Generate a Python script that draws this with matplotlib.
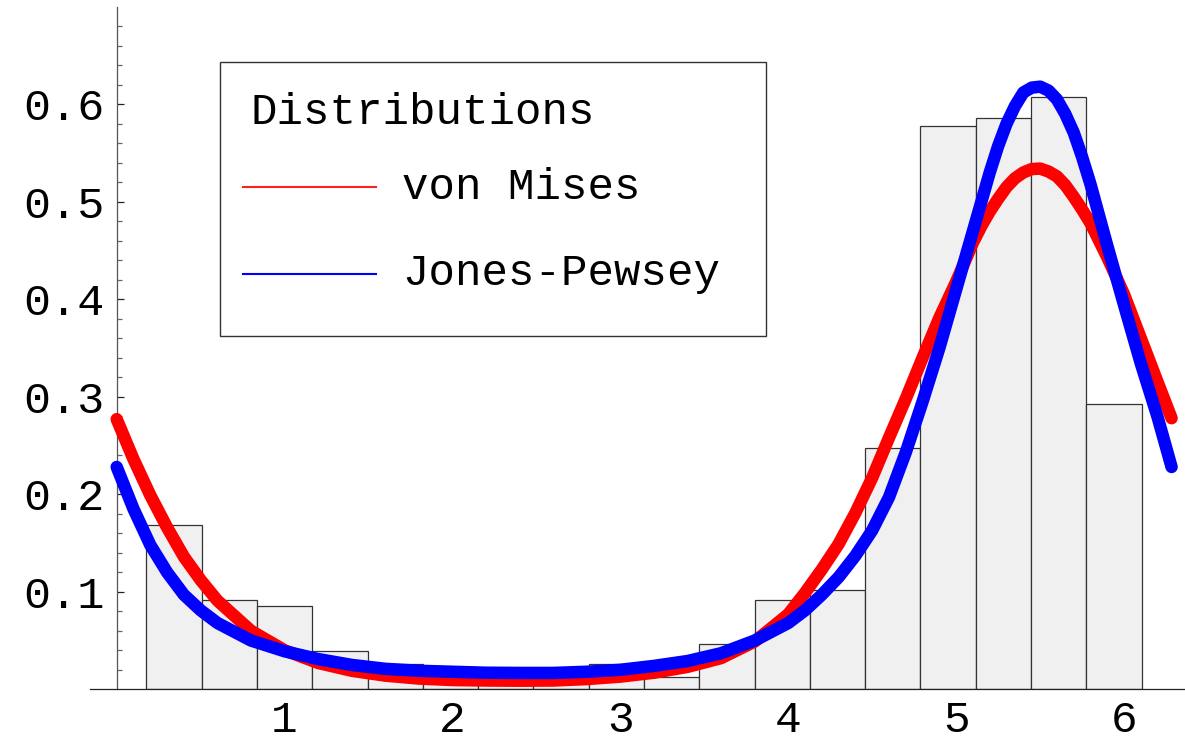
import numpy as np
import matplotlib
matplotlib.use("Agg")
import matplotlib.pyplot as plt
from matplotlib.lines import Line2D
from matplotlib.patches import Rectangle
from matplotlib.ticker import FixedLocator

plt.rcParams['font.family'] = ['Liberation Mono', 'DejaVu Sans Mono']

# histogram (bin edges and heights)
bin_edges = [0.177, 0.506, 0.836, 1.165, 1.494, 1.824, 2.153, 2.482, 2.811, 3.141,
             3.470, 3.799, 4.129, 4.458, 4.787, 5.116, 5.446, 5.775, 6.104]
bar_heights = [0.169, 0.092, 0.085, 0.039, 0.026, 0.0065, 0.0065, 0.0065, 0.026,
               0.013, 0.046, 0.092, 0.1015, 0.247, 0.578, 0.586, 0.607, 0.293]

# fitted densities
angles = [0.0, 0.1, 0.2, 0.3, 0.4, 0.5, 0.6, 0.8, 1.0, 1.2, 1.4, 1.6, 1.8, 2.0, 2.2,
          2.4, 2.6, 2.8, 3.0, 3.2, 3.4, 3.6, 3.8, 4.0, 4.1, 4.2, 4.3, 4.4, 4.5, 4.6,
          4.7, 4.8, 4.9, 5.0, 5.1, 5.15, 5.2, 5.25, 5.3, 5.35, 5.4, 5.45, 5.5, 5.55,
          5.6, 5.65, 5.7, 5.75, 5.8, 5.9, 6.0, 6.1, 6.2, 6.283]
von_mises = [0.277, 0.236, 0.199, 0.166, 0.136, 0.112, 0.091, 0.060, 0.040, 0.027,
             0.019, 0.014, 0.011, 0.0095, 0.009, 0.0088, 0.009, 0.0105, 0.013, 0.017,
             0.023, 0.032, 0.049, 0.077, 0.099, 0.123, 0.149, 0.181, 0.217, 0.258,
             0.298, 0.340, 0.381, 0.418, 0.458, 0.475, 0.490, 0.503, 0.515, 0.524,
             0.530, 0.5335, 0.534, 0.531, 0.526, 0.517, 0.505, 0.492, 0.478, 0.443,
             0.405, 0.360, 0.315, 0.278]
jones_pewsey = [0.228, 0.185, 0.148, 0.120, 0.097, 0.081, 0.068, 0.050, 0.039, 0.031,
                0.025, 0.021, 0.019, 0.018, 0.017, 0.0168, 0.0168, 0.018, 0.020, 0.024,
                0.029, 0.037, 0.050, 0.068, 0.081, 0.097, 0.115, 0.137, 0.163, 0.197,
                0.243, 0.295, 0.350, 0.410, 0.470, 0.500, 0.530, 0.557, 0.580, 0.598,
                0.612, 0.617, 0.618, 0.614, 0.605, 0.590, 0.571, 0.546, 0.518, 0.455,
                0.394, 0.334, 0.279, 0.228]

x_ticks = [1, 2, 3, 4, 5, 6]
x_tick_labels = ["1", "2", "3", "4", "5", "6"]
y_ticks = [0.1, 0.2, 0.3, 0.4, 0.5, 0.6]
y_tick_labels = ["0.1", "0.2", "0.3", "0.4", "0.5", "0.6"]
y_minor = [0.02, 0.04, 0.06, 0.08, 0.12, 0.14, 0.16, 0.18, 0.22, 0.24, 0.26, 0.28,
           0.32, 0.34, 0.36, 0.38, 0.42, 0.44, 0.46, 0.48, 0.52, 0.54, 0.56, 0.58,
           0.62, 0.64, 0.66, 0.68]

W, H = 1185, 741
fig = plt.figure(figsize=(W / 100, H / 100), dpi=100)
ax = fig.add_axes([90 / W, 1 - 689.3 / H, 1095 / W, (689.3 - 6.7) / H])
ax.set_xlim(-0.159, 6.363)
ax.set_ylim(0, 0.70)

edges = np.array(bin_edges)
ax.bar(edges[:-1], bar_heights, width=np.diff(edges), align='edge',
       color='#f0f0f0', edgecolor='#333333', linewidth=0.9, zorder=1)

ax.plot(angles, von_mises, color='#ff0000', lw=9, solid_capstyle='round',
        solid_joinstyle='round', zorder=3)
ax.plot(angles, jones_pewsey, color='#0000ff', lw=9, solid_capstyle='round',
        solid_joinstyle='round', zorder=4)

for s in ['top', 'right']:
    ax.spines[s].set_visible(False)
ax.spines['left'].set_position(('data', 0))
ax.spines['left'].set_color('#555555')
ax.spines['left'].set_linewidth(0.9)
ax.spines['bottom'].set_color('#222222')
ax.spines['bottom'].set_linewidth(0.9)
ax.spines['bottom'].set_zorder(5)

ax.set_xticks(x_ticks)
ax.set_xticklabels(x_tick_labels)
ax.set_yticks(y_ticks)
ax.set_yticklabels(y_tick_labels)
ax.yaxis.set_minor_locator(FixedLocator(y_minor))
ax.tick_params(axis='x', length=0, pad=7.5, labelsize=32)
ax.tick_params(axis='y', which='major', direction='in', length=5.3, width=0.9,
               color='#222222', pad=8.5, labelsize=32.5)
ax.tick_params(axis='y', which='minor', direction='in', length=3.4, width=0.9,
               color='#666666')

# legend box
def fx(px):
    return px / W

def fy(py):
    return 1 - py / H

fig.patches.append(Rectangle((fx(220), fy(336)), fx(766) - fx(220), fy(62) - fy(336),
                             transform=fig.transFigure, facecolor='white',
                             edgecolor='#333333', linewidth=1.0, zorder=10))
fig.text(fx(250), fy(124.5), "Distributions", fontsize=31.8, va='baseline', zorder=11)
fig.lines.append(Line2D([fx(243), fx(376)], [fy(186.5), fy(186.5)], color='#ff2020',
                        lw=1.5, transform=fig.transFigure, zorder=11))
fig.text(fx(402), fy(198.8), "von Mises", fontsize=31.8, va='baseline', zorder=11)
fig.lines.append(Line2D([fx(243), fx(376)], [fy(273.6), fy(273.6)], color='#0000ff',
                        lw=1.5, transform=fig.transFigure, zorder=11))
fig.text(fx(402), fy(285.5), "Jones-Pewsey", fontsize=31.8, va='baseline', zorder=11)

fig.savefig("out.png", dpi=100)
